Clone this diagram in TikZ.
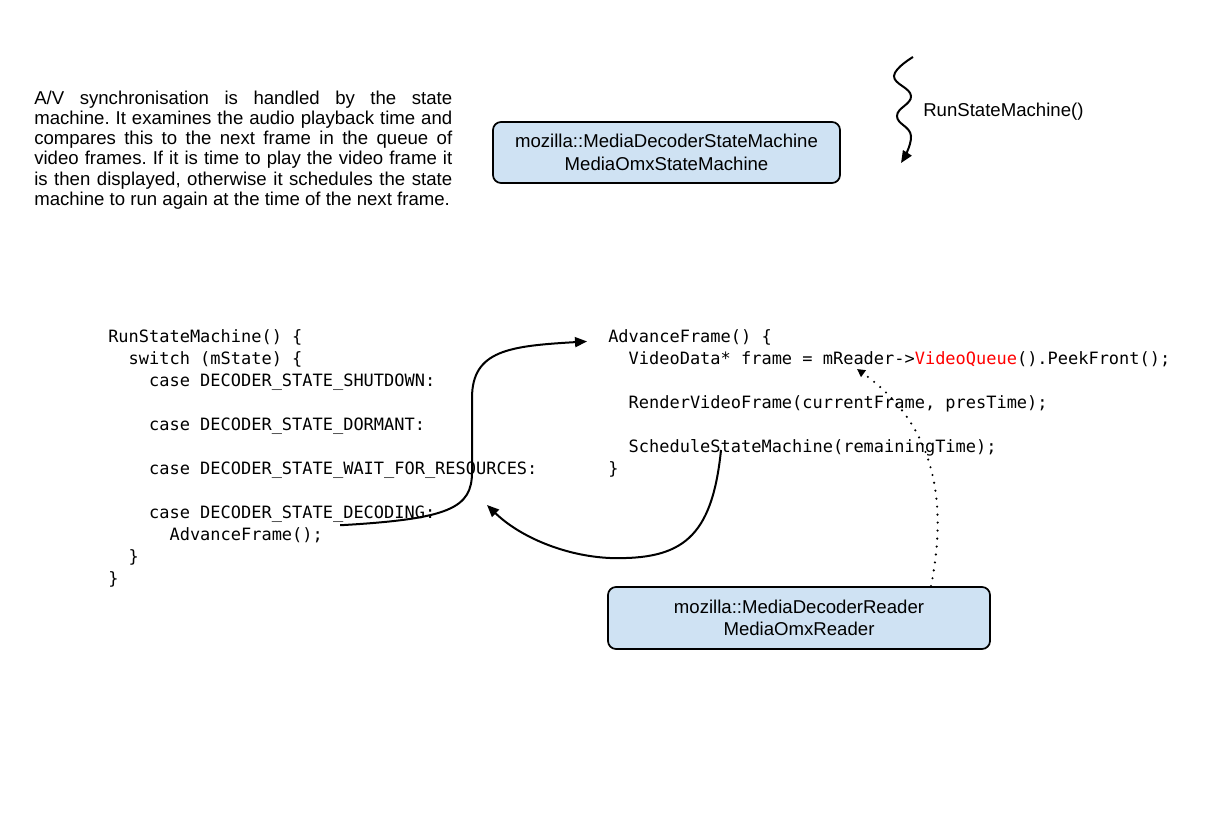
\documentclass[tikz,border=0pt]{standalone}
\usepackage{fontspec}
\setmainfont{Liberation Sans}
\newfontfamily\codefont{DejaVu Sans Mono}
\usetikzlibrary{arrows.meta,calc}
\definecolor{boxblue}{RGB}{207,226,243}
\definecolor{codered}{RGB}{255,0,0}
\frenchspacing
\begin{document}
\begin{tikzpicture}[x=0.75pt,y=-0.75pt,
  para/.style={inner sep=0pt, anchor=base west, font=\fontsize{13.95pt}{15pt}\selectfont},
  code/.style={inner sep=0pt, anchor=base west, font=\codefont\fontsize{12.73pt}{15pt}\selectfont},
  classbox/.style={draw=black, line width=1.3pt, fill=boxblue, rounded corners=6pt,
    align=center, inner sep=0pt, font=\fontsize{13.95pt}{16.9pt}\selectfont},
  flow/.style={line width=1.5pt, -{Triangle[length=9pt,width=7.5pt]}},
  dotflow/.style={line width=1.8pt, line cap=round, dash pattern=on 0pt off 6pt,
    -{Triangle[length=6pt,width=6pt]}}]
\useasboundingbox (0,0) rectangle (1212,837);

% paragraph
\node[para] (p1) at (34,104.7) {\makebox[313.5pt][s]{A/V synchronisation is handled by the state}};
\node[para] (p2) at (34,124.8) {\makebox[313.5pt][s]{machine. It examines the audio playback time and}};
\node[para] (p3) at (34,144.9) {\makebox[313.5pt][s]{compares this to the next frame in the queue of}};
\node[para] (p4) at (34,165.0) {\makebox[313.5pt][s]{video frames. If it is time to play the video frame it}};
\node[para] (p5) at (34,185.1) {\makebox[313.5pt][s]{is then displayed, otherwise it schedules the state}};
\node[para] (p6) at (34,205.2) {machine to run again at the time of the next frame.};

% class boxes
\node[classbox, minimum width=260.25pt, minimum height=45.75pt] (SM) at (666.5,152.5)
  {mozilla::MediaDecoderStateMachine\\MediaOmxStateMachine};
\node[classbox, minimum width=286.5pt, minimum height=46.5pt] (RB) at (799,618)
  {mozilla::MediaDecoderReader\\MediaOmxReader};

% wavy arrow
\node[para] (rsm) at (923,116.5) {RunStateMachine()};
\coordinate (ws) at (913,57);
\coordinate (we) at (901,163);
\draw[flow] plot[smooth, tension=0.75] coordinates {(ws) (894,76) (911,96) (897,116) (911,136) (we)};

% left code
\node[code] (L0) at (108,342.5) {RunStateMachine() \{};
\node[code] (L1) at (108,364.5) {\hphantom{xx}switch (mState) \{};
\node[code] (L2) at (108,386.5) {\hphantom{xxxx}case DECODER\_STATE\_SHUTDOWN:};
\node[code] (L4) at (108,430.5) {\hphantom{xxxx}case DECODER\_STATE\_DORMANT:};
\node[code] (L6) at (108,474.5) {\hphantom{xxxx}case DECODER\_STATE\_WAIT\_FOR\_RESOURCES:};
\node[code] (L8) at (108,518.5) {\hphantom{xxxx}case DECODER\_STATE\_DECODING:};
\node[code] (L9) at (108,540.5) {\hphantom{xxxxxx}AdvanceFrame();};
\node[code] (L10) at (108,562.5) {\hphantom{xx}\}};
\node[code] (L11) at (108,584.5) {\}};

% right code
\node[code] (R0) at (608,342.5) {AdvanceFrame() \{};
\node[code] (R1) at (608,364.5) {\hphantom{xx}VideoData* frame = mReader->\textcolor{codered}{VideoQueue}().PeekFront();};
\node[code] (R3) at (608,408.5) {\hphantom{xx}RenderVideoFrame(currentFrame, presTime);};
\node[code] (R5) at (608,452.5) {\hphantom{xx}ScheduleStateMachine(remainingTime);};
\node[code] (R6) at (608,474.5) {\}};

% connectors
\coordinate (a1s) at ($(L9.east)+(17,-10)$);
\coordinate (a1e) at ($(R0.west)+(-21,4)$);
\draw[flow] (a1s) .. controls (450,519) and (472,508) .. (472,472)
  -- (472,398) .. controls (472,350) and (510,346) .. (a1e);

\coordinate (a2s) at (721,450);
\coordinate (a2e) at (487,505);
\draw[flow] (a2s) .. controls (712,538) and (682,560) .. (610,558)
  .. controls (565,556) and (520,537) .. (a2e);

\coordinate (a3s) at ($(RB.north)+(132,0)$);
\coordinate (a3e) at (857,369);
\draw[dotflow] (a3s) .. controls (948,500) and (935,425) .. (a3e);
\end{tikzpicture}
\end{document}
